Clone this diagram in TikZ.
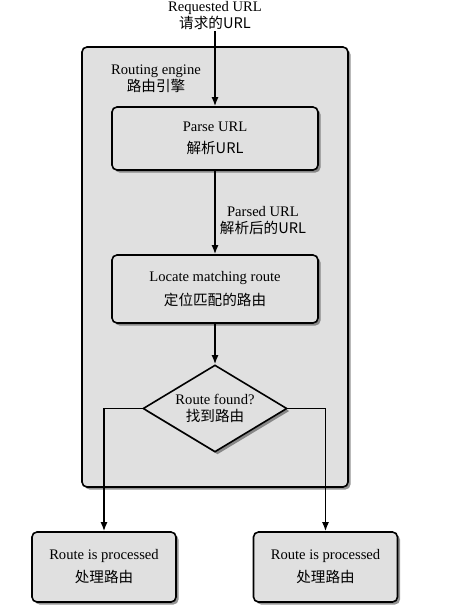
\documentclass[tikz,border=0pt]{standalone}
\usepackage{fontspec}
\setmainfont{Liberation Serif}
\newfontfamily\cjk{Noto Sans CJK SC}
\usetikzlibrary{shapes.geometric,shadows,arrows.meta}
\newcommand{\mysize}{\fontsize{14.6}{17}\selectfont}
\tikzset{
    node style box/.style={draw,rounded corners=5pt,fill=black!12,line width=1.6pt,
                           drop shadow={shadow xshift=2.5pt,shadow yshift=-2.5pt,fill=black!70,opacity=0.6},
                           align=center,inner sep=0pt,font=\mysize},
    node style dec/.style={draw,diamond,fill=black!12,line width=1.6pt,aspect=1.65,
                           drop shadow={shadow xshift=2.5pt,shadow yshift=-2.5pt,fill=black!70,opacity=0.6},
                           align=center,inner sep=0pt,font=\mysize},
    node style lbl/.style={align=center,inner sep=1pt,font=\mysize},
    arrow style flow/.style={->,line width=1.6pt},
}
\begin{document}
\begin{tikzpicture}[>={Latex[length=9pt,width=7pt]},x=1pt,y=-1pt]
\useasboundingbox (0,0) rectangle (457,611);

 % routing engine frame
 \node [node style box,minimum width=266pt,minimum height=440pt] (engine) at (215,267) {};
 \node [node style lbl] (engineLbl) at (156,79) {Routing engine\\{\cjk 路由引擎}};

 \node [node style lbl] (request) at (215,16) {Requested URL\\{\cjk 请求的URL}};

 \node [node style box,minimum width=206pt,minimum height=63pt] (parse) at (215,138.5)
       {Parse URL\\[5pt]{\cjk 解析URL}};
 \node [node style lbl] (parsedLbl) at (263,221) {Parsed URL\\{\cjk 解析后的URL}};

 \node [node style box,minimum width=206pt,minimum height=68pt] (locate) at (215,289)
       {Locate matching route\\[7pt]{\cjk 定位匹配的路由}};

 \node [node style dec,minimum width=144pt,minimum height=87pt] (found) at (215,408.5)
       {Route found?\\{\cjk 找到路由}};

 \node [node style box,minimum width=144pt,minimum height=70pt] (doneL) at (104,567)
       {Route is processed\\[6pt]{\cjk 处理路由}};
 \node [node style box,minimum width=144pt,minimum height=70pt] (doneR) at (325.5,567)
       {Route is processed\\[6pt]{\cjk 处理路由}};

 \draw [arrow style flow] (request.south)--(parse.north);
 \draw [arrow style flow] (parse.south)--(locate.north);
 \draw [arrow style flow] (locate.south)--(found.north);
 \draw [arrow style flow] (found.west)-|(doneL.north);
 \draw [arrow style flow] (found.east)-|(doneR.north);

\end{tikzpicture}
\end{document}
